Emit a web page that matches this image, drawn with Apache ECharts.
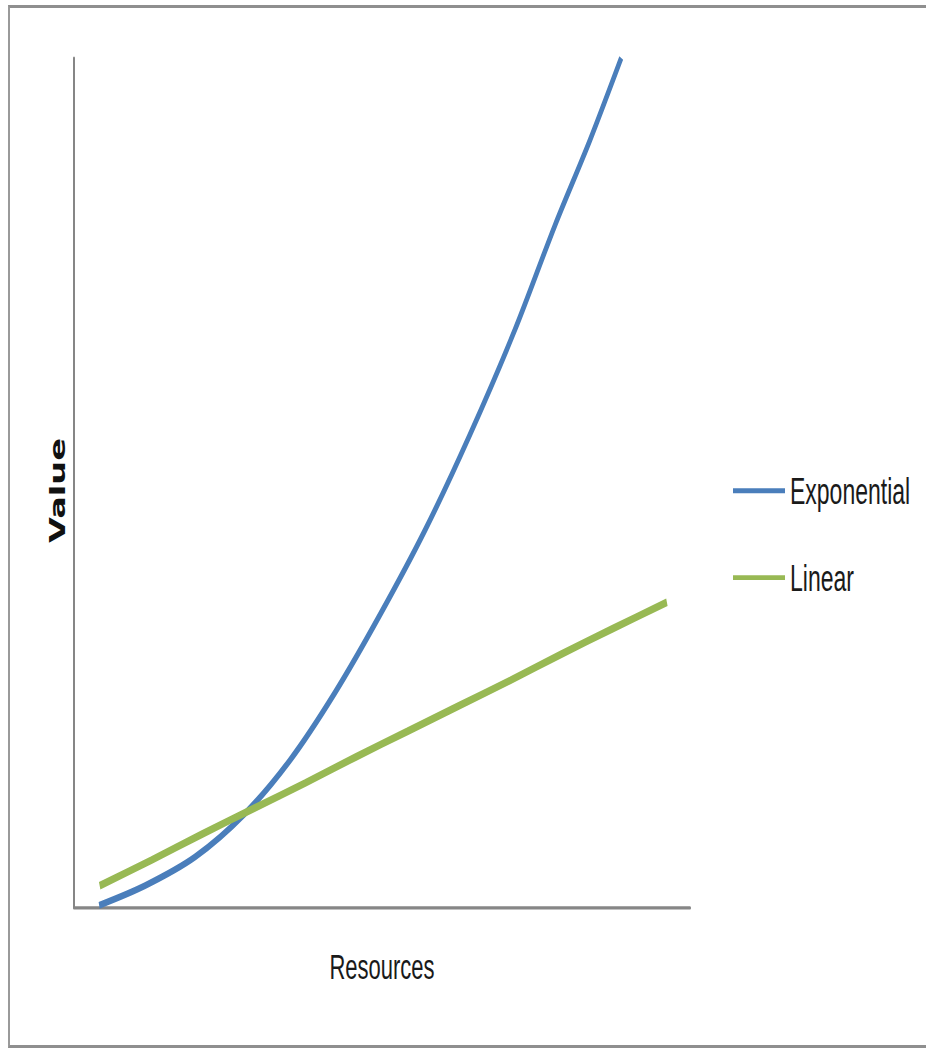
<!DOCTYPE html>
<html>
<head>
<meta charset="utf-8">
<script src="https://cdn.jsdelivr.net/npm/echarts@6/dist/echarts.min.js"></script>
<style>
  html, body { margin: 0; padding: 0; background: #ffffff; overflow: hidden; }
  body { width: 926px; height: 1055px; position: relative; }
  #frame {
    position: absolute; left: 8px; top: 5px; width: 940px; height: 1043px;
    border-top: 3px solid #8f8f8f; border-left: 2px solid #9a9a9a; border-bottom: 3px solid #8f8f8f;
    box-sizing: border-box; pointer-events: none; z-index: 2;
  }
  /* the chart is laid out on a shorter canvas and stretched to full height */
  #chart {
    position: absolute; left: 0; top: 0; width: 926px; height: 660px;
    transform-origin: 0 0; transform: scaleY(1.5985);
  }
</style>
</head>
<body>
<div id="chart"></div>
<div id="frame"></div>
<script>
// Resources (x) and value (y) for each curve
const seriesNames = ['Exponential', 'Linear'];
const resourcesExp = [0.49, 1.38, 2.36, 3.33, 4.21, 5.08, 5.96, 6.84, 7.71, 8.59, 9.37, 10.05, 10.66];
const exponential  = [0.2, 2.5, 5.9, 11.0, 17.3, 25.2, 34.4, 44.4, 55.6, 68.0, 80.3, 90.3, 100];
const resourcesLin = [0.5, 1.5, 2.5, 3.5, 4.5, 5.5, 6.5, 7.5, 8.5, 9.5, 10.5, 11.55];
const linear       = [2.5, 5.5, 8.6, 11.6, 14.6, 17.7, 20.7, 23.7, 26.7, 29.8, 32.8, 35.9];
const axisNames = { x: 'Resources', y: 'Value' };

const pairs = (xs, ys) => xs.map((x, i) => [x, ys[i]]);

const chart = echarts.init(document.getElementById('chart'), null, { renderer: 'svg' });
const axisLine = { show: true, onZero: false, lineStyle: { color: '#868686', width: 2 } };

chart.setOption({
  animation: false,
  backgroundColor: '#ffffff',
  grid: { left: 74, right: 236, top: 36.3, bottom: 92.6 },
  xAxis: {
    type: 'value', min: 0, max: 12,
    name: axisNames.x, nameLocation: 'middle', nameGap: 26,
    nameTextStyle: { fontFamily: 'Liberation Sans', fontSize: 22, color: '#1a1a1a', verticalAlign: 'top' },
    axisLine: axisLine, axisTick: { show: false }, axisLabel: { show: false }, splitLine: { show: false }
  },
  yAxis: {
    type: 'value', min: 0, max: 100,
    name: axisNames.y, nameLocation: 'middle', nameGap: 6,
    nameTextStyle: { fontFamily: 'DejaVu Sans', fontWeight: 'bold', fontSize: 21, color: '#111111', verticalAlign: 'bottom', padding: [0, 10, 0, 0] },
    axisLine: axisLine, axisTick: { show: false }, axisLabel: { show: false }, splitLine: { show: false }
  },
  legend: {
    orient: 'vertical', left: 728, top: 289,
    icon: 'rect', itemWidth: 52, itemHeight: 3, itemGap: 28.4,
    textStyle: { fontFamily: 'Liberation Sans', fontSize: 23, lineHeight: 26, color: '#1a1a1a' },
    data: seriesNames
  },
  series: [
    {
      name: seriesNames[0], type: 'line', smooth: 0.3, showSymbol: false,
      data: pairs(resourcesExp, exponential),
      lineStyle: { color: '#4a7ebb', width: 4.4 }, itemStyle: { color: '#4a7ebb' }
    },
    {
      name: seriesNames[1], type: 'line', smooth: 0.3, showSymbol: false,
      data: pairs(resourcesLin, linear),
      lineStyle: { color: '#98b954', width: 4.8 }, itemStyle: { color: '#98b954' }
    }
  ]
});
</script>
</body>
</html>
